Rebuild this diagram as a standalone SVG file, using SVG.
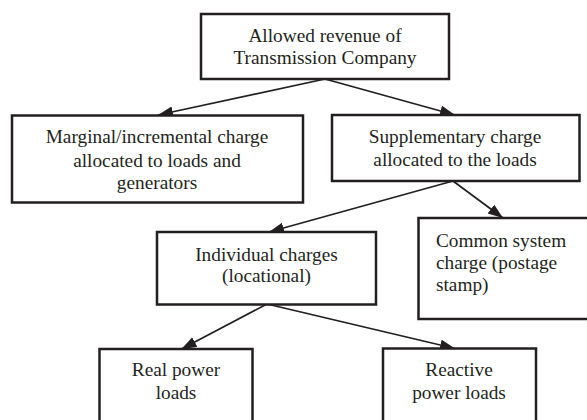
<svg xmlns="http://www.w3.org/2000/svg" width="587" height="420" viewBox="0 0 587 420">
<style>
.box{fill:#fff;stroke:#231f20;stroke-width:2.5}
.t{font-family:'Liberation Serif','Times New Roman',Times,Tinos,serif;font-size:19.3px;fill:#231f20;text-anchor:middle}
.l{text-anchor:start}
.c{stroke:#231f20;stroke-width:1.7;fill:none;marker-end:url(#ah)}
</style>
<defs>
<marker id="ah" markerUnits="userSpaceOnUse" markerWidth="16" markerHeight="12" refX="15" refY="5.5" orient="auto">
<path d="M0,0 L15,5.5 L0,11 Z" fill="#231f20"/>
</marker>
</defs>
<rect width="587" height="420" fill="#fff"/>
<g id="connectors">
<line class="c" x1="325" y1="79" x2="158" y2="115"/>
<line class="c" x1="325" y1="79" x2="455" y2="115"/>
<line class="c" x1="453" y1="181" x2="269" y2="232"/>
<line class="c" x1="453" y1="181" x2="503" y2="218"/>
<line class="c" x1="267" y1="304" x2="181.5" y2="349"/>
<line class="c" x1="267" y1="304" x2="455" y2="348.5"/>
</g>
<g id="n-allowed">
<rect class="box" x="201" y="14" width="248" height="65"/>
<text class="t" x="325" y="41.7" font-family="Liberation Serif, serif">Allowed revenue of</text>
<text class="t" x="325" y="64.3" font-family="Liberation Serif, serif">Transmission Company</text>
</g>
<g id="n-marginal">
<rect class="box" x="12" y="115.5" width="291" height="87"/>
<text class="t" x="157" y="143.3">Marginal/incremental charge</text>
<text class="t" x="157" y="166.5">allocated to loads and</text>
<text class="t" x="157" y="189.3">generators</text>
</g>
<g id="n-supplementary">
<rect class="box" x="332" y="115" width="247.5" height="66"/>
<text class="t" x="455" y="143.3">Supplementary charge</text>
<text class="t" x="455" y="165.5">allocated to the loads</text>
</g>
<g id="n-individual">
<rect class="box" x="157" y="232" width="219" height="72.5"/>
<text class="t" x="266.5" y="260.5">Individual charges</text>
<text class="t" x="266.5" y="282">(locational)</text>
</g>
<g id="n-common">
<rect class="box" x="418.5" y="218" width="172" height="101"/>
<text class="t l" x="436" y="247.3">Common system</text>
<text class="t l" x="436" y="269.3">charge (postage</text>
<text class="t l" x="436" y="291">stamp)</text>
</g>
<g id="n-real">
<rect class="box" x="99.5" y="349" width="153" height="75"/>
<text class="t" x="176" y="375.7">Real power</text>
<text class="t" x="176" y="399">loads</text>
</g>
<g id="n-reactive">
<rect class="box" x="383" y="348.5" width="153" height="75"/>
<text class="t" x="459" y="376">Reactive</text>
<text class="t" x="459" y="399.3">power loads</text>
</g>
</svg>
